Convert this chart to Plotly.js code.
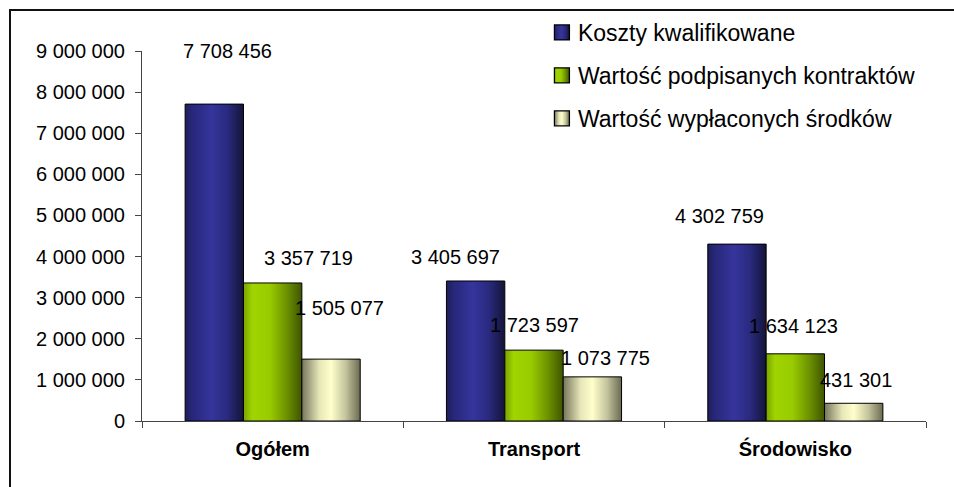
<!DOCTYPE html>
<html><head><meta charset="utf-8">
<script src="https://cdn.plot.ly/plotly-3.0.1.min.js"></script>
<style>
html,body{margin:0;padding:0;background:#fff;}
#wrap{position:relative;width:954px;height:487px;overflow:hidden;}
#chart{width:954px;height:487px;}
#frame{position:absolute;left:9px;top:9px;width:2000px;height:2000px;border-top:2px solid #111;border-left:2px solid #111;pointer-events:none;}
</style>
</head><body>
<div id="wrap"><div id="chart"></div><div id="frame"></div></div>
<script>
// ---- data ----
const categories = ['Ogółem', 'Transport', 'Środowisko'];
const seriesNames = ['Koszty kwalifikowane', 'Wartość podpisanych kontraktów', 'Wartość wypłaconych środków'];
const kosztyKwalifikowane = [7708456, 3405697, 4302759];
const podpisaneKontrakty = [3357719, 1723597, 1634123];
const wyplaconeSrodki = [1505077, 1073775, 431301];

// ---- styling ----
const baseColors = ['#333399', '#99cc00', '#ffffcc'];
const gradientStops = [
  [[0,'#1e1e5a'],[0.12,'#27277a'],[0.45,'#35359c'],[0.72,'#2a2a80'],[1,'#141438']],
  [[0,'#7aa300'],[0.15,'#9fd400'],[0.45,'#99cc00'],[0.75,'#6b8f00'],[1,'#3f5500']],
  [[0,'#76765c'],[0.3,'#e6e6b8'],[0.5,'#ffffcc'],[0.75,'#c4c49e'],[1,'#6a6a52']]
];
// label offsets in pixels [dx, dy above bar top], per series, per category
const labelShiftX = [[13, -20, -17], [36, 0, -2], [8, 13, 2]];
const labelShiftY = [[53, 24, 28], [25, 25, 28], [51, 19, 23]];

const FONT = 'Liberation Sans, Arial, sans-serif';
const bargap = 0.33;
const seriesValues = [kosztyKwalifikowane, podpisaneKontrakty, wyplaconeSrodki];

function fmt(v){ return String(v).replace(/\B(?=(\d{3})+(?!\d))/g, ' '); }

const traces = seriesValues.map((vals, i) => ({
  type: 'bar',
  name: seriesNames[i],
  x: categories,
  y: vals,
  legendgroup: 'g' + i,
  marker: {color: baseColors[i], line: {color: '#000', width: 1}},
  hoverinfo: 'skip'
}));

const nS = seriesValues.length;
const bw = (1 - bargap) / nS;
const annotations = [];
seriesValues.forEach((vals, i) => {
  vals.forEach((v, j) => {
    annotations.push({
      xref: 'x', yref: 'y',
      x: j - (1 - bargap) / 2 + (i + 0.5) * bw,
      y: v,
      text: fmt(v),
      showarrow: false,
      xanchor: 'center', yanchor: 'middle',
      xshift: labelShiftX[i][j],
      yshift: labelShiftY[i][j],
      font: {family: FONT, size: 20, color: '#000'}
    });
  });
});

const layout = {
  width: 954, height: 487,
  margin: {l: 142, r: 28, t: 50, b: 66},
  paper_bgcolor: '#fff', plot_bgcolor: '#fff',
  separators: ', ',
  barmode: 'group',
  bargap: bargap,
  bargroupgap: 0,
  showlegend: true,
  legend: {
    x: 0.505, y: 1.105, xanchor: 'left', yanchor: 'top',
    font: {family: FONT, size: 23, color: '#000'},
    bgcolor: 'rgba(0,0,0,0)', borderwidth: 0,
    tracegroupgap: 10, traceorder: 'grouped'
  },
  xaxis: {
    type: 'category',
    showline: true, linecolor: '#444', linewidth: 1,
    ticks: 'outside', ticklen: 6, tickcolor: '#444', tickson: 'boundaries',
    showgrid: false, zeroline: false,
    tickfont: {family: FONT, size: 20, color: '#000', weight: 'bold'},
    ticklabelstandoff: 10,
    fixedrange: true
  },
  yaxis: {
    range: [0, 9000000], dtick: 1000000, tick0: 0,
    tickformat: ',d',
    showline: true, linecolor: '#444', linewidth: 1,
    ticks: 'outside', ticklen: 6, tickcolor: '#444',
    showgrid: false, zeroline: false,
    tickfont: {family: FONT, size: 20, color: '#000'},
    ticklabelstandoff: 6,
    fixedrange: true
  },
  annotations: annotations
};

function applyGradients(gd){
  const svg = gd.querySelector('svg.main-svg');
  if (!svg) return;
  const NS = 'http://www.w3.org/2000/svg';
  let defs = svg.querySelector('defs');
  if (!defs) { defs = document.createElementNS(NS, 'defs'); svg.insertBefore(defs, svg.firstChild); }
  gradientStops.forEach((stops, i) => {
    const id = 'bargrad' + i;
    if (svg.querySelector('#' + id)) return;
    const g = document.createElementNS(NS, 'linearGradient');
    g.setAttribute('id', id);
    g.setAttribute('x1', '0'); g.setAttribute('y1', '0');
    g.setAttribute('x2', '1'); g.setAttribute('y2', '0');
    stops.forEach(s => {
      const st = document.createElementNS(NS, 'stop');
      st.setAttribute('offset', s[0]);
      st.setAttribute('stop-color', s[1]);
      g.appendChild(st);
    });
    defs.appendChild(g);
  });
  gd.querySelectorAll('.barlayer .trace').forEach((t, i) => {
    t.querySelectorAll('path').forEach(p => { p.style.fill = 'url(#bargrad' + i + ')'; });
  });
  gd.querySelectorAll('.legend .traces').forEach((t, i) => {
    t.querySelectorAll('.legendpoints path').forEach(p => {
      p.style.fill = 'url(#bargrad' + i + ')';
      if (!p.hasAttribute('data-orig-t')) p.setAttribute('data-orig-t', p.getAttribute('transform') || '');
      p.setAttribute('transform', p.getAttribute('data-orig-t') + ' translate(4,0) scale(1.25)');
    });
  });
}

const gd = document.getElementById('chart');
Plotly.newPlot(gd, traces, layout, {staticPlot: true, displayModeBar: false}).then(() => {
  applyGradients(gd);
  gd.on && gd.on('plotly_afterplot', () => applyGradients(gd));
});
</script>
</body></html>
